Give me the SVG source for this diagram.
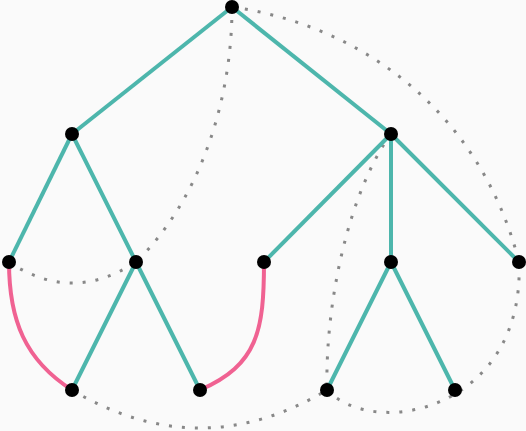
<svg xmlns="http://www.w3.org/2000/svg" width="526" height="431" viewBox="0 0 526 431">
<style>
.t{stroke:#4db6ac;stroke-width:4;fill:none}
.p{stroke:#f06292;stroke-width:4;fill:none}
.d{stroke:#888;stroke-width:3;fill:none;stroke-dasharray:3 10}
.n{fill:#000}
</style>
<rect width="526" height="431" fill="#fafafa"/>
<g id="connectors">
<path class="d" d="M232,7 C232,100 200,200 136,262"/>
<path class="d" d="M9,262 Q72,304 136,262"/>
<path class="d" d="M232,7 C360,25 480,110 519,262"/>
<path class="d" d="M391,134 C350,190 325,300 327,390"/>
<path class="d" d="M72,390 Q200,466 327,390"/>
<path class="d" d="M327,390 C375,440 525,410 519,262"/>
<line class="t" x1="232" y1="7" x2="72" y2="134"/>
<line class="t" x1="232" y1="7" x2="391" y2="134"/>
<line class="t" x1="72" y1="134" x2="9" y2="262"/>
<line class="t" x1="72" y1="134" x2="136" y2="262"/>
<line class="t" x1="136" y1="262" x2="72" y2="390"/>
<line class="t" x1="136" y1="262" x2="200" y2="390"/>
<line class="t" x1="391" y1="134" x2="264" y2="262"/>
<line class="t" x1="391" y1="134" x2="391" y2="262"/>
<line class="t" x1="391" y1="134" x2="519" y2="262"/>
<line class="t" x1="391" y1="262" x2="327" y2="390"/>
<line class="t" x1="391" y1="262" x2="455" y2="390"/>
<path class="p" d="M9,262 C9,320 25,360 72,390"/>
<path class="p" d="M264,262 C264,330 258,365 200,390"/>
</g>
<g id="n0"><circle class="n" cx="232" cy="7" r="7"/></g>
<g id="n1"><circle class="n" cx="72" cy="134" r="7"/></g>
<g id="n2"><circle class="n" cx="391" cy="134" r="7"/></g>
<g id="n3"><circle class="n" cx="9" cy="262" r="7"/></g>
<g id="n4"><circle class="n" cx="136" cy="262" r="7"/></g>
<g id="n5"><circle class="n" cx="264" cy="262" r="7"/></g>
<g id="n6"><circle class="n" cx="391" cy="262" r="7"/></g>
<g id="n7"><circle class="n" cx="519" cy="262" r="7"/></g>
<g id="n8"><circle class="n" cx="72" cy="390" r="7"/></g>
<g id="n9"><circle class="n" cx="200" cy="390" r="7"/></g>
<g id="n10"><circle class="n" cx="327" cy="390" r="7"/></g>
<g id="n11"><circle class="n" cx="455" cy="390" r="7"/></g>
</svg>
